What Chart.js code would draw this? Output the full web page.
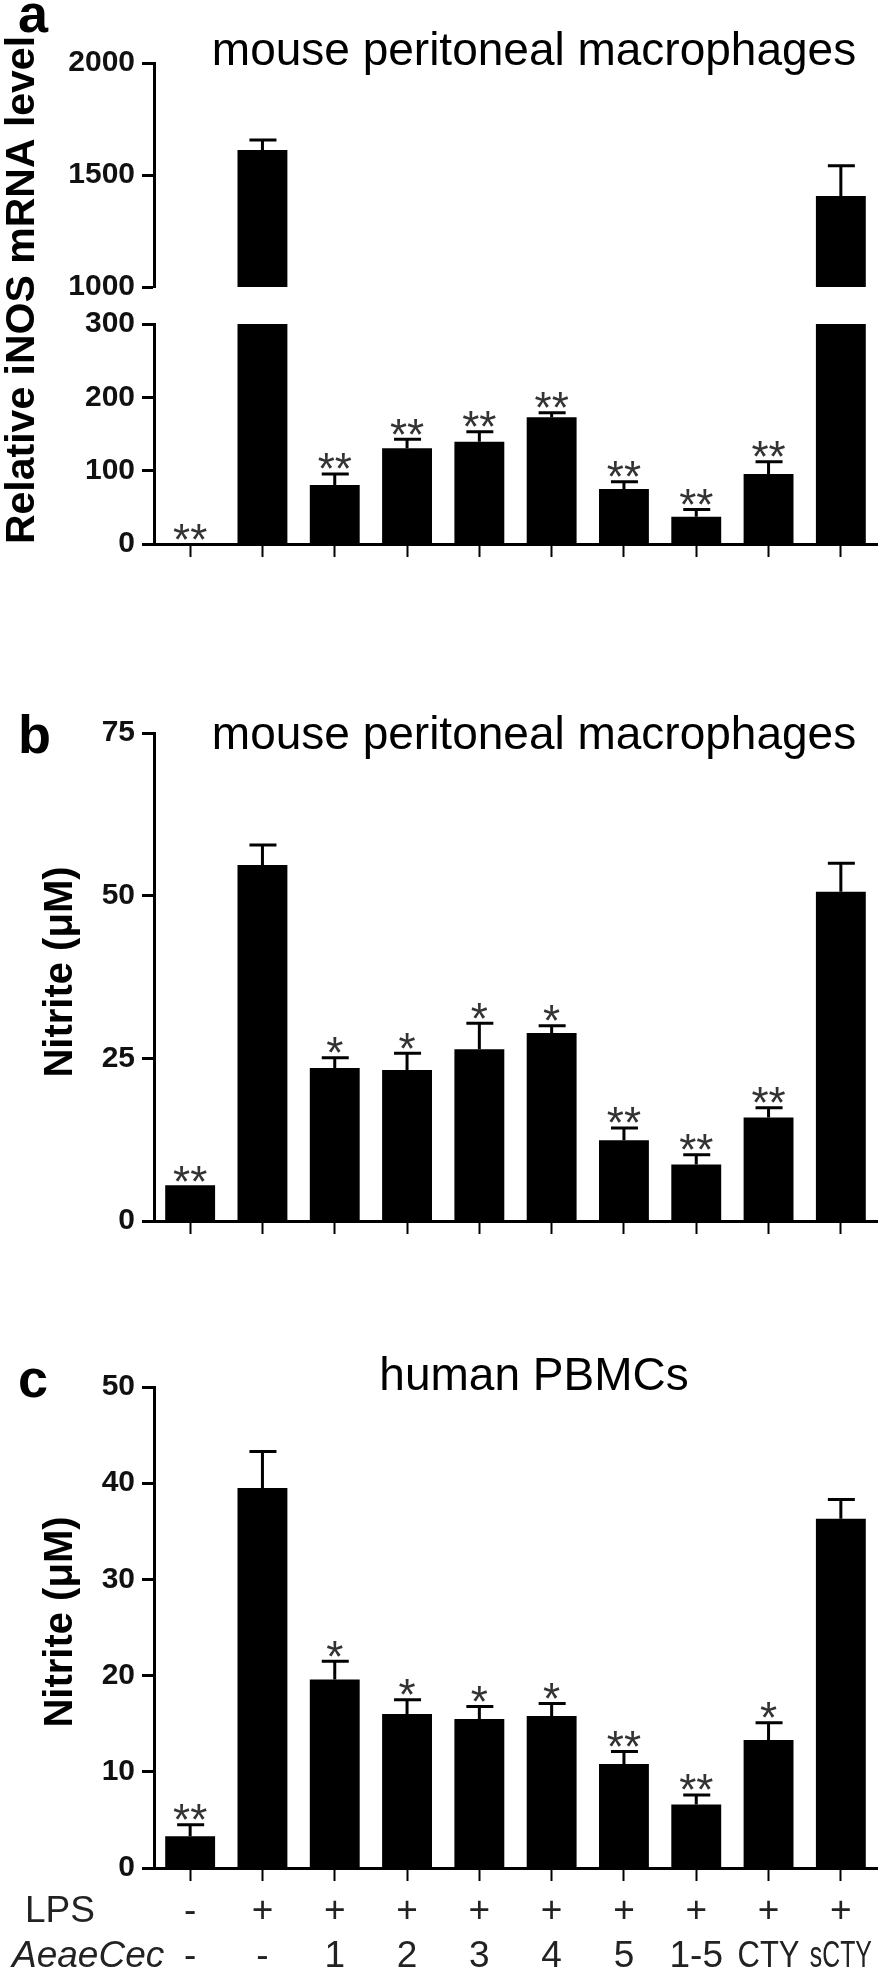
<!DOCTYPE html>
<html>
<head>
<meta charset="utf-8">
<script src="https://cdn.jsdelivr.net/npm/chart.js@4.4.1/dist/chart.umd.min.js"></script>
<style>
    body { margin: 0; background: #fff; }
    #wrap { position: relative; width: 894px; height: 1975px; }
    .panel { position: absolute; left: 0; width: 894px; }
    .panel canvas { position: absolute; left: 0; top: 0; }
</style>
</head>
<body>
<div id="wrap">
    <div class="panel" style="top:0;height:600px">
        <canvas id="chartA1" width="894" height="600"></canvas>
        <canvas id="chartA2" width="894" height="600"></canvas>
    </div>
    <div class="panel" style="top:690px;height:600px">
        <canvas id="chartB" width="894" height="600"></canvas>
    </div>
    <div class="panel" style="top:1330px;height:645px">
        <canvas id="chartC" width="894" height="645"></canvas>
    </div>
</div>
<script>
// treatments (x categories)
const lpsRow = ['-', '+', '+', '+', '+', '+', '+', '+', '+', '+'];
const cecRow = ['-', '-', '1', '2', '3', '4', '5', '1-5', 'CTY', 'sCTY'];

// a: relative iNOS mRNA level, mouse peritoneal macrophages
const iNOS = [1, 1612, 80.5, 130.5, 139.5, 173, 75, 37, 95.5, 1406];
const iNOSErr = [0, 44, 15, 12.5, 13.5, 6, 10, 10, 16.5, 135];
const sigA = ['**', '', '**', '**', '**', '**', '**', '**', '**', ''];

// b: nitrite (uM), mouse peritoneal macrophages
const nitriteMouse = [5.5, 54.7, 23.5, 23.2, 26.4, 28.9, 12.4, 8.7, 15.9, 50.6];
const nitriteMouseErr = [0, 3.1, 1.6, 2.6, 4.0, 1.1, 1.9, 1.5, 1.5, 4.4];
const sigB = ['**', '', '*', '*', '*', '*', '**', '**', '**', ''];

// c: nitrite (uM), human PBMCs
const nitriteHuman = [3.3, 39.5, 19.6, 16.0, 15.5, 15.8, 10.8, 6.6, 13.3, 36.3];
const nitriteHumanErr = [1.2, 3.8, 1.9, 1.5, 1.3, 1.3, 1.3, 1.0, 1.8, 2.0];
const sigC = ['**', '', '*', '*', '*', '*', '**', '**', '*', ''];

const FONT = '"Liberation Sans", Arial, Helvetica, sans-serif';
const AXIS_X = 154;
const labels = cecRow.map((c, i) => lpsRow[i] + ' ' + c);

function yScale(min, max, step) {
    return {
        min: min,
        max: max,
        afterFit: function (s) { s.width = AXIS_X; },
        border: { display: true, color: '#000', width: 3 },
        grid: { display: true, drawOnChartArea: false, drawTicks: true, tickLength: 12, tickWidth: 3, tickColor: '#000' },
        ticks: {
            stepSize: step, padding: 7, color: '#111',
            font: { family: FONT, size: 30, weight: 'bold' },
            callback: v => String(v)
        }
    };
}

function xScale(show, height) {
    return {
        display: show,
        offset: true,
        afterFit: function (s) { s.height = height; },
        border: { display: true, color: '#000', width: 3 },
        grid: { display: true, offset: false, drawOnChartArea: false, drawTicks: true, tickLength: 13, tickWidth: 2, tickColor: '#000' },
        ticks: { display: false }
    };
}

// error bars + significance stars, only for values inside this chart's y range
function makeErrorBars(values, errors, sig) {
    return {
        id: 'errorBars',
        afterDatasetsDraw(chart) {
            const ctx = chart.ctx;
            const x = chart.scales.x, y = chart.scales.y;
            ctx.save();
            ctx.strokeStyle = '#000';
            ctx.lineWidth = 3;
            ctx.font = '44px ' + FONT;
            ctx.textAlign = 'center';
            ctx.textBaseline = 'alphabetic';
            ctx.fillStyle = '#333';
            values.forEach(function (v, i) {
                if (v < y.min || v > y.max) return;
                const px = x.getPixelForValue(i);
                const top = y.getPixelForValue(v);
                const et = y.getPixelForValue(v + errors[i]);
                if (errors[i] > 0) {
                    ctx.beginPath();
                    ctx.moveTo(px, top);
                    ctx.lineTo(px, et);
                    ctx.moveTo(px - 13, et);
                    ctx.lineTo(px + 14, et);
                    ctx.stroke();
                }
                if (sig[i]) {
                    const m = ctx.measureText(sig[i]);
                    const bottom = (errors[i] > 0 ? et - 1.5 : top) - 3;
                    ctx.fillText(sig[i], px, bottom - m.actualBoundingBoxDescent);
                }
            });
            ctx.restore();
        }
    };
}

function makeText(t) {
    return {
        id: 'panelText',
        afterDraw(chart) {
            const ctx = chart.ctx;
            const x = chart.scales.x;
            ctx.save();
            ctx.fillStyle = '#000';
            ctx.textBaseline = 'alphabetic';
            ctx.textAlign = 'left';
            ctx.font = 'bold 54px ' + FONT;
            ctx.fillText(t.letter, 18, t.letterY);
            ctx.textAlign = 'center';
            ctx.font = '46px ' + FONT;
            ctx.fillText(t.title, 534, t.titleY);
            if (t.rows) {
                ctx.fillStyle = '#222';
                ctx.font = '37px ' + FONT;
                lpsRow.forEach(function (s, i) { ctx.fillText(s, x.getPixelForValue(i), t.rows[0], 62); });
                cecRow.forEach(function (s, i) { ctx.fillText(s, x.getPixelForValue(i), t.rows[1], 62); });
                ctx.textAlign = 'left';
                ctx.fillText('LPS', 25, t.rows[0]);
                ctx.font = 'italic 37px ' + FONT;
                ctx.fillText('AeaeCec', 12, t.rows[1]);
                ctx.fillStyle = '#000';
            }
            ctx.translate(t.yTitleX, t.yTitleY);
            ctx.rotate(-Math.PI / 2);
            ctx.textAlign = 'center';
            ctx.font = 'bold ' + t.yTitleSize + 'px ' + FONT;
            ctx.fillText(t.yTitle, 0, 0);
            ctx.restore();
        }
    };
}

function barSet(data) {
    return {
        data: data,
        backgroundColor: '#000',
        borderWidth: 0,
        barPercentage: 0.69,
        categoryPercentage: 1
    };
}

function baseOptions(padding, y, x) {
    return {
        responsive: false,
        animation: false,
        layout: { padding: padding },
        plugins: { legend: { display: false }, tooltip: { enabled: false } },
        scales: { x: x, y: y }
    };
}

// panel a, upper segment of the broken axis (1000-2000)
new Chart(document.getElementById('chartA1'), {
    type: 'bar',
    data: { labels: labels, datasets: [barSet(iNOS.map(v => v > 1000 ? [1000, v] : null))] },
    options: baseOptions({ top: 63, right: 17, bottom: 313, left: 0 }, yScale(1000, 2000, 500), xScale(false, 0)),
    plugins: [makeErrorBars(iNOS, iNOSErr, sigA)]
});

// panel a, lower segment (0-300)
new Chart(document.getElementById('chartA2'), {
    type: 'bar',
    data: { labels: labels, datasets: [barSet(iNOS.map(v => Math.min(v, 300)))] },
    options: baseOptions({ top: 324, right: 17, bottom: 0, left: 0 }, yScale(0, 300, 100), xScale(true, 56)),
    plugins: [makeErrorBars(iNOS, iNOSErr, sigA), makeText({
        letter: 'a', letterY: 32, title: 'mouse peritoneal macrophages', titleY: 65,
        yTitle: 'Relative iNOS mRNA level', yTitleX: 34, yTitleY: 290, yTitleSize: 41
    })]
});

// panel b
new Chart(document.getElementById('chartB'), {
    type: 'bar',
    data: { labels: labels, datasets: [barSet(nitriteMouse)] },
    options: baseOptions({ top: 43, right: 17, bottom: 0, left: 0 }, yScale(0, 75, 25), xScale(true, 69)),
    plugins: [makeErrorBars(nitriteMouse, nitriteMouseErr, sigB), makeText({
        letter: 'b', letterY: 63, title: 'mouse peritoneal macrophages', titleY: 59,
        yTitle: 'Nitrite (\u03bcM)', yTitleX: 72, yTitleY: 282, yTitleSize: 40
    })]
});

// panel c
new Chart(document.getElementById('chartC'), {
    type: 'bar',
    data: { labels: labels, datasets: [barSet(nitriteHuman)] },
    options: baseOptions({ top: 57, right: 17, bottom: 0, left: 0 }, yScale(0, 50, 10), xScale(true, 107)),
    plugins: [makeErrorBars(nitriteHuman, nitriteHumanErr, sigC), makeText({
        letter: 'c', letterY: 67, title: 'human PBMCs', titleY: 60,
        yTitle: 'Nitrite (\u03bcM)', yTitleX: 72, yTitleY: 292, yTitleSize: 40,
        rows: [592, 637]
    })]
});
</script>
</body>
</html>
